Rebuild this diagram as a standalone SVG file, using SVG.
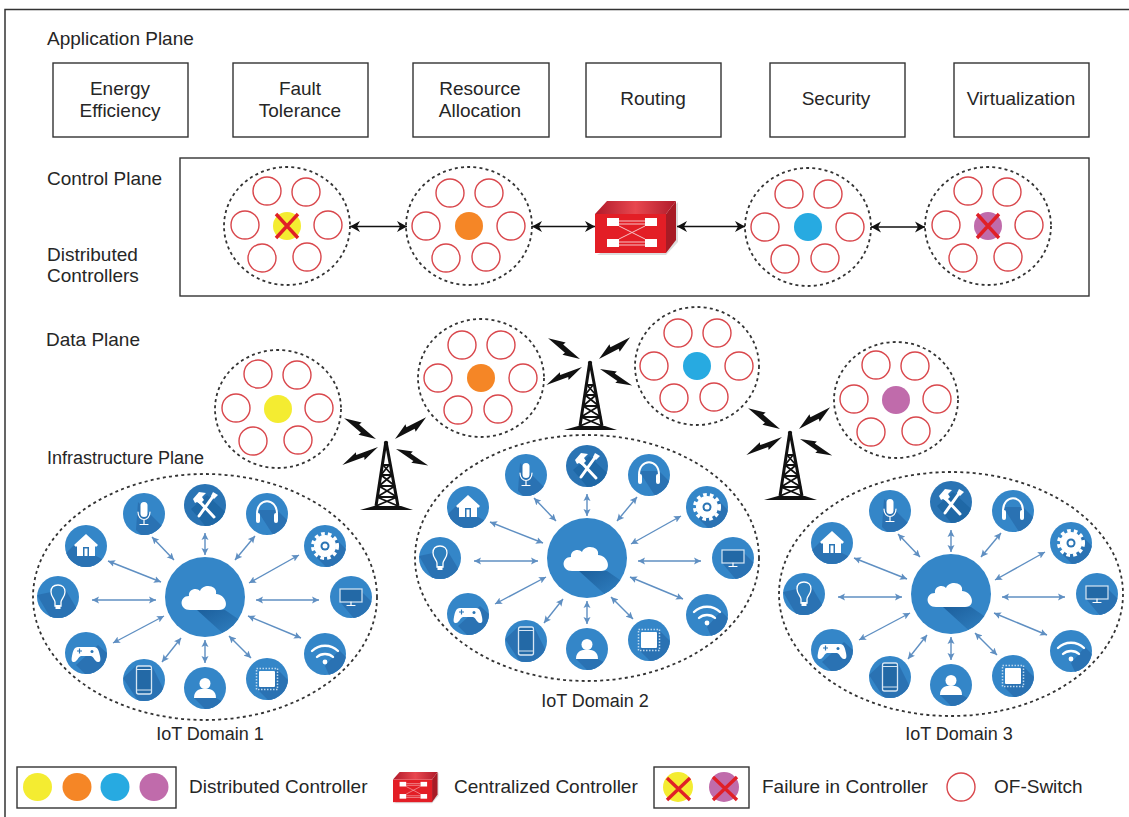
<svg xmlns="http://www.w3.org/2000/svg" width="1129" height="817" viewBox="0 0 1129 817">
<style>
text{font-family:"Liberation Sans",Arial,sans-serif;font-size:19px;fill:#262626}
.s{font-size:18px}
.m{text-anchor:middle}
.box{fill:#fff;stroke:#333;stroke-width:1.4}
.dash{fill:#fff;stroke:#333;stroke-width:1.8;stroke-dasharray:3 3.2}
.sw{fill:#fff;stroke:#d9474c;stroke-width:1.4}
.x{stroke:#e02027;stroke-width:3.4;fill:none}
.ctl{stroke:#111;stroke-width:1.3;fill:none;marker-start:url(#ah);marker-end:url(#ah)}
.lnk{stroke:#5f8fc2;stroke-width:1.4;fill:none;marker-start:url(#bh);marker-end:url(#bh)}
.disc{fill:#3486c8}
.sh{fill:#2a72b3}
.w{fill:#fff}
.wl{fill:none;stroke:#fff;stroke-linecap:round}
.twr{stroke:#111;fill:none}
</style>
<defs>
<marker id="ah" markerUnits="userSpaceOnUse" markerWidth="12" markerHeight="12" refX="10" refY="6" orient="auto-start-reverse"><path d="M0,0.5L10,6L0,11.5L3,6z" fill="#111"/></marker>
<marker id="bh" markerUnits="userSpaceOnUse" markerWidth="8" markerHeight="8" refX="7" refY="4" orient="auto-start-reverse"><path d="M0,0.5L7,4L0,7.5L1.5,4z" fill="#5f8fc2"/></marker>
<clipPath id="ic"><circle r="21"/></clipPath>
<clipPath id="cc"><circle r="40"/></clipPath>
<linearGradient id="csh" x1="0" y1="0" x2="1" y2="1"><stop offset="0" stop-color="#1c5f9c"/><stop offset="1" stop-color="#3486c8"/></linearGradient>
<g id="pa">
<circle class="sw" cx="-20" cy="-35" r="14"/><circle class="sw" cx="19" cy="-34" r="14"/><circle class="sw" cx="-42" cy="-1" r="14"/><circle class="sw" cx="41" cy="-1" r="14"/><circle class="sw" cx="-25" cy="32" r="14"/><circle class="sw" cx="20" cy="31" r="14"/>
</g>
<g id="pb">
<circle class="sw" cx="-19" cy="-33" r="14"/><circle class="sw" cx="20" cy="-33" r="14"/><circle class="sw" cx="-43" cy="0" r="14"/><circle class="sw" cx="42" cy="0" r="14"/><circle class="sw" cx="-23" cy="32" r="14"/><circle class="sw" cx="17" cy="31" r="14"/>
</g>
<g id="fx"><path class="x" d="M-11,-12L11,12M11,-12L-11,12"/></g>
<linearGradient id="tg" x1="0" x2="1" y1="0" y2="0"><stop offset="0" stop-color="#b01a2a"/><stop offset=".5" stop-color="#e8474f"/><stop offset="1" stop-color="#b01a2a"/></linearGradient>
<g id="ofc">
<path d="M71,14L83,1V41L71,54H2z" fill="#8d8d8d" opacity=".3"/>
<path d="M0,13L12,0H81L71,13z" fill="url(#tg)"/>
<path d="M71,13L81,0V39L71,52z" fill="#a81b25"/>
<rect y="13" width="71" height="39" fill="#e31e26"/>
<g fill="#fff"><rect x="12" y="17" width="12" height="8"/><rect x="50" y="17" width="12" height="8"/><rect x="12" y="38" width="12" height="8"/><rect x="50" y="38" width="12" height="8"/></g>
<path d="M24,20H50M24,23H50M24,41H50M24,44H50M24,25L50,38M24,38L50,25" stroke="#f6c3c6" stroke-width="1" fill="none"/>
</g>
<polygon id="bolt" points="0,0 17,-6 16,-3 38,0 21,6 22,3" fill="#111"/>
<g id="tower">
<use href="#bolt" transform="translate(-10,-4) rotate(213)"/>
<use href="#bolt" transform="translate(9,-4) rotate(-35)"/>
<use href="#bolt" transform="translate(-8,4) rotate(153) scale(1.05 .9)"/>
<use href="#bolt" transform="translate(10,6) rotate(27) scale(.95 .9)"/>
<circle r="2.2" fill="#111"/>
<polygon points="-26,67 27,67 15,63 -12,63" fill="#111"/>
<path class="twr" stroke-width="3" d="M-.5,1L-10,63M.5,1L12,63"/>
<path class="twr" stroke-width="1.8" d="M-3,22H3M-5,32H6M-7,43H9M-9,54H11M-3,22L6,32M3,22L-5,32M-5,32L9,43M6,32L-7,43M-7,43L11,54M9,43L-9,54M-9,54L12,63M11,54L-10,63"/>
</g>
<g id="i-mic"><circle class="disc" r="21"/><g clip-path="url(#ic)"><path class="sh" d="M-6,-12L30,24V40H16L-8,16z"/></g><rect class="w" x="-3.5" y="-12" width="7" height="15" rx="3.5"/><path class="wl" stroke-width="1.2" d="M-6,-2C-6,8 6,8 6,-2M0,6V10M-4,10.500H4"/></g>
<g id="i-tools"><circle r="21" fill="#2a74b4"/><g clip-path="url(#ic)"><path fill="#1f68a6" d="M-14,4L2,-10L30,16L8,30z"/></g><path class="wl" stroke-width="3" d="M-6,-4L9,12M9,-10L-6,11"/><path class="w" d="M-12,-6L-6,-13L1,-12L-3,-8L-1,-5L-5,-1L-8,-3L-10,-2z"/><path class="w" d="M8,-13L13,-10L9,-6L6,-9z"/></g>
<g id="i-head"><circle class="disc" r="21"/><g clip-path="url(#ic)"><path class="sh" d="M-10,-4L10,-4L30,16V30H12z"/></g><path class="wl" stroke-width="2" d="M-10,0C-10,-17 10,-17 10,0"/><rect class="w" x="-11" y="-1" width="4" height="10" rx="2"/><rect class="w" x="7" y="-1" width="4" height="10" rx="2"/></g>
<g id="i-gear"><circle class="disc" r="21"/><g clip-path="url(#ic)"><path class="sh" d="M8,-10L30,12V30H10L-10,10z"/></g><circle class="w" r="11"/><circle r="12.300" fill="none" stroke="#fff" stroke-width="3.500" stroke-dasharray="3.600 3.120"/><circle r="4.500" fill="#2a74b4"/><circle r="2.500" class="w"/></g>
<g id="i-mon"><circle class="disc" r="21"/><g clip-path="url(#ic)"><path class="sh" d="M-10,6L10,-6L30,14V30H10z"/></g><rect x="-11" y="-8" width="22" height="13" fill="#2369a6" stroke="#d7e6f3" stroke-width="1.2"/><path class="wl" stroke-width="1.200" d="M0,5V8M-4,8.500H4"/></g>
<g id="i-wifi"><circle class="disc" r="21"/><g clip-path="url(#ic)"><path class="sh" d="M14,-4L30,12V30H8L0,12z"/></g><path class="wl" stroke-width="2.400" d="M-13,-3C-6,-10 6,-10 13,-3M-8,3C-4,-1 4,-1 8,3"/><circle class="w" cy="8" r="2.400"/></g>
<g id="i-chip"><circle class="disc" r="21"/><g clip-path="url(#ic)"><path class="sh" d="M10,-10L30,10V30H10L-10,10z"/></g><rect class="w" x="-8" y="-8" width="16" height="16" rx="1"/><rect x="-10.500" y="-10.500" width="21" height="21" fill="none" stroke="#bcd8ee" stroke-width="1.500" stroke-dasharray="1.500 1.500"/></g>
<g id="i-user"><circle class="disc" r="21"/><g clip-path="url(#ic)"><path class="sh" d="M11,10H-11L10,31L30,30L30,20z"/></g><circle class="w" cy="-4.500" r="5.500"/><path class="w" d="M-11,10C-11,2 -5,1 -3,1H3C5,1 11,2 11,10z"/></g>
<g id="i-phone"><circle class="disc" r="21"/><g clip-path="url(#ic)"><path class="sh" d="M-8,-14L-21,-2L0,30L30,30L8,-14z"/></g><rect x="-7.500" y="-14" width="15" height="28" rx="2" fill="#2369a6" stroke="#d7e6f3" stroke-width="1.300"/><path d="M-7,-10.500H7M-7,10H7" stroke="#d7e6f3" stroke-width="1"/></g>
<g id="i-game"><circle class="disc" r="21"/><g clip-path="url(#ic)"><path class="sh" d="M12,-8L30,8V30H8L-10,12z"/></g><path class="w" d="M-8,-6H8C12,-6 13,-2 14,3C15,8 14,9 12,9C9,9 8,4 5,3H-5C-8,4 -9,9 -12,9C-14,9 -15,8 -14,3C-13,-2 -12,-6 -8,-6z"/><path d="M-9,-2H-4M-6.500,-4.500V.5" stroke="#2a74b4" stroke-width="1.200"/><circle cx="6" cy="-1.500" r="1.500" fill="#2a74b4"/></g>
<g id="i-bulb"><circle class="disc" r="21"/><g clip-path="url(#ic)"><path class="sh" d="M-7,-5L-21,-2L-2,30L30,30L7,-8z"/></g><path d="M-3,9V5C-3,2 -7,0 -7,-5C-7,-10 -4,-12 0,-12C4,-12 7,-10 7,-5C7,0 3,2 3,5V9z" fill="#2f7fbe" stroke="#fff" stroke-width="1.300"/><rect class="w" x="-2.500" y="8" width="5" height="4"/></g>
<g id="i-home"><circle class="disc" r="21"/><g clip-path="url(#ic)"><path class="sh" d="M-11,-2L-21,8L-6,30L30,30L30,20L10,10z"/></g><path class="w" d="M0,-12L12,-1L10,1L9,0V10H-9V0L-10,1L-12,-1z"/><rect x="-3" y="1" width="6" height="9" fill="#2a74b4"/><rect x="-1.500" y="2.500" width="3" height="7.500" class="w"/></g>
<g id="center">
<circle class="disc" r="40"/>
<g clip-path="url(#cc)"><path fill="url(#csh)" d="M-8,13H20L42,28L24,42z"/></g>
<path class="w" d="M-15,13C-26,13 -26,-1 -16,-1C-17,-8 -8,-10 -5,-6C-2,-14 13,-12 11,-3C21,-3 26,13 14,13z"/>
</g>
<g id="star">
<path class="lnk" d="M-53,-60L-31,-37"/><path class="lnk" d="M0,-64V-42"/><path class="lnk" d="M50,-61L30,-37"/><path class="lnk" d="M94,-42L44,-14"/><path class="lnk" d="M114,3H51"/><path class="lnk" d="M96,41L43,19"/><path class="lnk" d="M46,61L24,39"/><path class="lnk" d="M0,66V43"/><path class="lnk" d="M-43,65L-24,41"/><path class="lnk" d="M-92,46L-41,19"/><path class="lnk" d="M-113,3H-49"/><path class="lnk" d="M-97,-36L-44,-15"/>
<use href="#center"/>
<use href="#i-mic" x="-61" y="-83"/><use href="#i-tools" x="0" y="-92"/><use href="#i-head" x="62" y="-83"/><use href="#i-gear" x="120" y="-51"/><use href="#i-mon" x="146" y="0"/><use href="#i-wifi" x="120" y="57"/><use href="#i-chip" x="62" y="82"/><use href="#i-user" x="0" y="91"/><use href="#i-phone" x="-61" y="83"/><use href="#i-game" x="-119" y="56"/><use href="#i-bulb" x="-147" y="0"/><use href="#i-home" x="-119" y="-51"/>
</g>
</defs>
<rect width="1129" height="817" fill="#fff"/>
<path d="M5,817V9.500H1129" fill="none" stroke="#333" stroke-width="1.500"/>

<g id="application-plane">
<text x="47" y="45">Application Plane</text>
<g id="app-energy"><rect class="box" x="53" y="63" width="135" height="74"/><text class="m" x="120" y="95">Energy</text><text class="m" x="120" y="117">Efficiency</text></g>
<g id="app-fault"><rect class="box" x="233" y="63" width="135" height="74"/><text class="m" x="300" y="95">Fault</text><text class="m" x="300" y="117">Tolerance</text></g>
<g id="app-resource"><rect class="box" x="413" y="63" width="136" height="74"/><text class="m" x="480" y="95">Resource</text><text class="m" x="480" y="117">Allocation</text></g>
<g id="app-routing"><rect class="box" x="586" y="63" width="135" height="74"/><text class="m" x="653" y="105">Routing</text></g>
<g id="app-security"><rect class="box" x="770" y="63" width="135" height="74"/><text class="m" x="836" y="105">Security</text></g>
<g id="app-virtualization"><rect class="box" x="954" y="63" width="135" height="74"/><text class="m" x="1021" y="105">Virtualization</text></g>
</g>

<text x="47" y="185">Control Plane</text>
<text x="47" y="261">Distributed</text>
<text x="47" y="282">Controllers</text>
<rect id="control-box" class="box" x="180" y="158" width="909" height="138"/>

<g id="ctrl-yellow" transform="translate(287,226)"><ellipse class="dash" rx="63" ry="59"/><use href="#pa"/><circle r="14" fill="#f4ec31"/><use href="#fx"/></g>
<g id="ctrl-orange" transform="translate(469,226)"><ellipse class="dash" rx="63" ry="59"/><use href="#pb"/><circle r="14" fill="#f58626"/></g>
<g id="central-controller" transform="translate(595,201)"><use href="#ofc"/></g>
<g id="ctrl-blue" transform="translate(808,227)"><ellipse class="dash" rx="63" ry="59"/><use href="#pb"/><circle r="14" fill="#27aae1"/></g>
<g id="ctrl-purple" transform="translate(988,226)"><ellipse class="dash" rx="63" ry="59"/><use href="#pa"/><circle r="14" fill="#c06bab"/><use href="#fx"/></g>

<g id="connectors">
<path class="ctl" d="M350,226.500H407"/>
<path class="ctl" d="M532,226.500H595"/>
<path class="ctl" d="M677,226.500H745"/>
<path class="ctl" d="M871,227H925"/>
</g>

<text x="46" y="346">Data Plane</text>
<g id="tower-1" transform="translate(386,443)"><use href="#tower"/></g>
<g id="tower-2" transform="translate(590,363)"><use href="#tower"/></g>
<g id="tower-3" transform="translate(790,433)"><use href="#tower"/></g>
<g id="data-yellow" transform="translate(278,409)"><ellipse class="dash" rx="63" ry="59"/><use href="#pa"/><circle r="14" fill="#f4ec31"/></g>
<g id="data-orange" transform="translate(481,378)"><ellipse class="dash" rx="63" ry="59"/><use href="#pb"/><circle r="14" fill="#f58626"/></g>
<g id="data-blue" transform="translate(697,366)"><ellipse class="dash" rx="62" ry="59"/><use href="#pb"/><circle r="14" fill="#27aae1"/></g>
<g id="data-purple" transform="translate(896,400)"><ellipse class="dash" rx="62" ry="58"/><use href="#pa"/><circle r="14" fill="#c06bab"/></g>

<text class="s" x="47" y="464">Infrastructure Plane</text>
<g id="iot-domain-1"><ellipse class="dash" cx="205" cy="597" rx="172" ry="123"/><use href="#star" x="205" y="597"/><text class="m s" x="210" y="740">IoT Domain 1</text></g>
<g id="iot-domain-2"><ellipse class="dash" cx="587" cy="558" rx="172" ry="123"/><use href="#star" x="587" y="558"/><text class="m s" x="595" y="707">IoT Domain 2</text></g>
<g id="iot-domain-3"><ellipse class="dash" cx="951" cy="594" rx="172" ry="122"/><use href="#star" x="951" y="594"/><text class="m s" x="959" y="740">IoT Domain 3</text></g>

<g id="legend">
<rect class="box" x="17" y="767" width="159" height="41"/>
<ellipse cx="37.500" cy="787" rx="14.500" ry="14" fill="#f4ec31"/><ellipse cx="77" cy="787" rx="14.500" ry="14" fill="#f58626"/><ellipse cx="115" cy="787" rx="14.500" ry="14" fill="#27aae1"/><ellipse cx="154" cy="787" rx="14.500" ry="14" fill="#c06bab"/>
<text x="189" y="793">Distributed Controller</text>
<use href="#ofc" transform="translate(393,772) scale(.55 .58)"/>
<text x="454" y="793">Centralized Controller</text>
<rect class="box" x="654" y="767" width="95" height="41"/>
<circle cx="678" cy="787" r="15" fill="#f4ec31"/><path class="x" d="M667,778L690,800M690,778L667,800"/>
<circle cx="724" cy="787" r="15" fill="#c06bab"/><path class="x" d="M713,777L737,800M737,777L713,800"/>
<text x="762" y="793">Failure in Controller</text>
<circle class="sw" cx="961" cy="787" r="14"/>
<text x="994" y="793">OF-Switch</text>
</g>
</svg>
